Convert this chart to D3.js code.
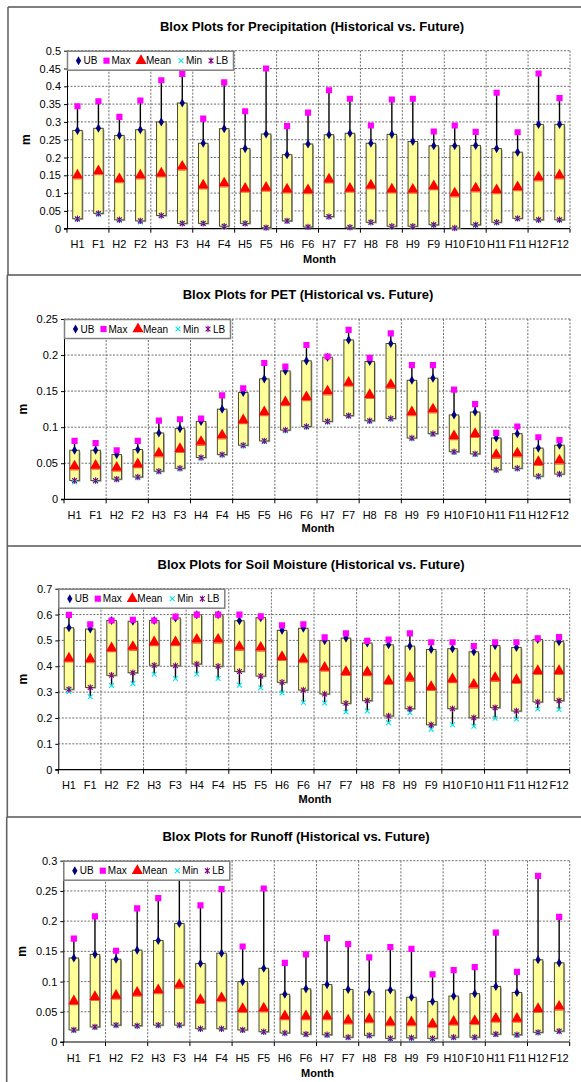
<!DOCTYPE html>
<html lang="en">
<head>
<meta charset="UTF-8">
<title>Blox Plots (Historical vs. Future)</title>
<script src="https://d3js.org/d3.v7.min.js"></script>
<style>
  body { margin: 0; background: #fff; }
  text { font-family: "Liberation Sans", Arial, sans-serif; fill: #000; }
</style>
</head>
<body>
<svg id="canvas" width="581" height="1082"></svg>
<script>
const months = ["H1","F1","H2","F2","H3","F3","H4","F4","H5","F5","H6","F6",
                "H7","F7","H8","F8","H9","F9","H10","F10","H11","F11","H12","F12"];

// precipitation
const precipUB   = [0.276,0.282,0.262,0.278,0.300,0.353,0.240,0.281,0.225,0.266,0.208,0.238,0.264,0.268,0.240,0.265,0.245,0.233,0.233,0.234,0.225,0.215,0.293,0.293];
const precipMax  = [0.344,0.358,0.314,0.360,0.417,0.435,0.309,0.411,0.330,0.450,0.288,0.326,0.389,0.365,0.290,0.363,0.365,0.273,0.290,0.272,0.382,0.271,0.436,0.367];
const precipMean = [0.150,0.162,0.140,0.150,0.156,0.175,0.122,0.128,0.113,0.116,0.111,0.109,0.139,0.113,0.122,0.111,0.110,0.120,0.100,0.114,0.109,0.117,0.145,0.150];
const precipLB   = [0.028,0.043,0.025,0.022,0.037,0.015,0.015,0.007,0.015,0.003,0.022,0.005,0.034,0.004,0.018,0.007,0.007,0.011,0.002,0.011,0.018,0.029,0.025,0.025];
const precipMin  = [0.026,0.040,0.024,0.019,0.036,0.014,0.014,0.006,0.014,0.002,0.021,0.004,0.033,0.003,0.017,0.006,0.006,0.010,0.001,0.010,0.017,0.028,0.024,0.024];
const precipTicks = [0,0.05,0.1,0.15,0.2,0.25,0.3,0.35,0.4,0.45,0.5];

// PET
const petUB   = [0.068,0.068,0.062,0.069,0.092,0.098,0.108,0.125,0.148,0.167,0.178,0.192,0.197,0.221,0.191,0.216,0.165,0.168,0.117,0.121,0.085,0.091,0.071,0.075];
const petMax  = [0.081,0.078,0.068,0.081,0.109,0.111,0.112,0.144,0.154,0.189,0.184,0.214,0.198,0.235,0.196,0.230,0.186,0.186,0.152,0.132,0.092,0.101,0.086,0.082];
const petMean = [0.046,0.047,0.044,0.049,0.064,0.070,0.080,0.089,0.110,0.121,0.135,0.142,0.150,0.162,0.145,0.159,0.121,0.125,0.088,0.091,0.062,0.064,0.052,0.054];
const petLB   = [0.026,0.026,0.028,0.031,0.039,0.043,0.058,0.062,0.075,0.081,0.096,0.101,0.108,0.116,0.109,0.112,0.085,0.091,0.066,0.063,0.041,0.043,0.032,0.035];
const petMin  = [0.024,0.025,0.027,0.030,0.038,0.042,0.057,0.061,0.074,0.080,0.095,0.100,0.107,0.115,0.108,0.111,0.084,0.090,0.065,0.062,0.040,0.042,0.031,0.034];
const petTicks = [0,0.05,0.1,0.15,0.2,0.25];

// soil moisture
const soilUB   = [0.549,0.544,0.577,0.574,0.577,0.587,0.599,0.599,0.576,0.588,0.539,0.547,0.499,0.509,0.490,0.483,0.478,0.465,0.468,0.456,0.480,0.473,0.504,0.495];
const soilMax  = [0.599,0.562,0.577,0.580,0.577,0.592,0.600,0.600,0.600,0.593,0.558,0.562,0.512,0.527,0.498,0.503,0.527,0.493,0.493,0.478,0.493,0.493,0.508,0.513];
const soilMean = [0.431,0.428,0.471,0.476,0.494,0.494,0.504,0.504,0.476,0.473,0.437,0.428,0.395,0.379,0.378,0.344,0.356,0.321,0.351,0.330,0.356,0.348,0.383,0.383];
const soilLB   = [0.311,0.318,0.365,0.375,0.404,0.402,0.409,0.400,0.380,0.362,0.338,0.308,0.293,0.257,0.267,0.208,0.236,0.174,0.236,0.201,0.240,0.227,0.262,0.267];
const soilMin  = [0.302,0.282,0.326,0.333,0.369,0.353,0.370,0.353,0.327,0.317,0.297,0.260,0.258,0.223,0.227,0.182,0.220,0.156,0.174,0.168,0.199,0.196,0.235,0.233];
const soilTicks = [0,0.1,0.2,0.3,0.4,0.5,0.6,0.7];

// runoff
const runoffUB   = [0.139,0.145,0.137,0.152,0.168,0.196,0.130,0.147,0.100,0.122,0.079,0.088,0.095,0.087,0.083,0.086,0.074,0.067,0.076,0.080,0.092,0.082,0.136,0.131];
const runoffMax  = [0.171,0.208,0.151,0.221,0.238,0.310,0.226,0.253,0.158,0.254,0.131,0.145,0.172,0.162,0.140,0.157,0.154,0.112,0.119,0.124,0.181,0.116,0.275,0.207];
const runoffMean = [0.068,0.075,0.077,0.082,0.086,0.095,0.070,0.073,0.055,0.056,0.043,0.043,0.043,0.036,0.038,0.033,0.033,0.030,0.034,0.035,0.039,0.039,0.055,0.059];
const runoffLB   = [0.020,0.025,0.028,0.027,0.028,0.028,0.022,0.022,0.020,0.017,0.015,0.013,0.012,0.008,0.011,0.006,0.007,0.006,0.008,0.008,0.013,0.012,0.016,0.018];
const runoffMin  = [0.019,0.024,0.027,0.026,0.027,0.027,0.021,0.021,0.019,0.016,0.014,0.012,0.011,0.007,0.010,0.005,0.006,0.005,0.007,0.007,0.012,0.011,0.015,0.017];
const runoffTicks = [0,0.05,0.1,0.15,0.2,0.25,0.3];

const legendNames = ["UB","Max","Mean","Min","LB"];

const panels = [
  {title: "Blox Plots for Precipitation (Historical vs. Future)",
   ub: precipUB, max: precipMax, mean: precipMean, min: precipMin, lb: precipLB, ticks: precipTicks,
   frame: [8, 7, 275], plot: [67, 570, 50.7, 228.7], titleX: 312, titleY: 31, mX: 30, monthY: 263},
  {title: "Blox Plots for PET (Historical vs. Future)",
   ub: petUB, max: petMax, mean: petMean, min: petMin, lb: petLB, ticks: petTicks,
   frame: [7.3, 275, 546], plot: [64, 570, 319, 499.3], titleX: 308, titleY: 299, mX: 27, monthY: 532},
  {title: "Blox Plots for Soil Moisture (Historical vs. Future)",
   ub: soilUB, max: soilMax, mean: soilMean, min: soilMin, lb: soilLB, ticks: soilTicks,
   frame: [7.3, 546, 817], plot: [58.3, 569.7, 588.7, 769.7], titleX: 311, titleY: 569, mX: 27, monthY: 803},
  {title: "Blox Plots for Runoff (Historical vs. Future)",
   ub: runoffUB, max: runoffMax, mean: runoffMean, min: runoffMin, lb: runoffLB, ticks: runoffTicks,
   frame: [6.7, 817, 1082], plot: [63.3, 569.7, 860.7, 1042], titleX: 296, titleY: 841, mX: 26, monthY: 1077}
];

const svg = d3.select("#canvas");

// marker drawing, shared by plot and legend
const markers = {
  UB:   sel => sel.append("path").attr("d", d3.symbol(d3.symbolDiamond, 24)).attr("fill", "#000080"),
  Max:  sel => sel.append("path").attr("d", d3.symbol(d3.symbolSquare, 38)).attr("fill", "#ff00ff"),
  Mean: sel => sel.append("path").attr("d", d3.symbol(d3.symbolTriangle, 54)).attr("fill", "#ff0000"),
  Min:  sel => sel.append("path").attr("d", "M-2.4,-2.4L2.4,2.4M-2.4,2.4L2.4,-2.4")
                 .attr("stroke", "#00e5ee").attr("stroke-width", 1.1).attr("fill", "none"),
  LB:   sel => sel.append("path").attr("d", "M-2.4,-2.4L2.4,2.4M-2.4,2.4L2.4,-2.4M0,-3.2L0,3.2")
                 .attr("stroke", "#800080").attr("stroke-width", 1.1).attr("fill", "none")
};

panels.forEach(drawPanel);

function drawPanel(p, pi) {
  const g = svg.append("g");
  const [fx, fy0, fy1] = p.frame;
  const [left, right, top, bottom] = p.plot;

  // frame of the chart object
  g.append("line").attr("x1", fx).attr("x2", 581).attr("y1", fy0).attr("y2", fy0)
    .attr("stroke", "#555").attr("stroke-width", 1.6);
  g.append("line").attr("x1", fx).attr("x2", fx).attr("y1", fy0).attr("y2", fy1)
    .attr("stroke", "#666").attr("stroke-width", 1.6);

  const x = d3.scaleBand().domain(months).range([left, right]);
  const y = d3.scaleLinear().domain([0, d3.max(p.ticks)]).range([bottom, top]);
  const bounds = d3.range(0, months.length + 1, 2).map(k => k < months.length ? x(months[k]) : right);

  // gridlines
  g.selectAll(".hg").data(p.ticks.filter(t => t > 0)).join("line")
    .attr("x1", left).attr("x2", right).attr("y1", d => y(d)).attr("y2", d => y(d))
    .attr("stroke", "#6e6e6e").attr("stroke-width", 1).attr("stroke-dasharray", "2,1.5");
  g.selectAll(".vg").data(bounds.slice(1)).join("line")
    .attr("x1", d => d).attr("x2", d => d).attr("y1", top).attr("y2", bottom)
    .attr("stroke", "#6e6e6e").attr("stroke-width", 1).attr("stroke-dasharray", "2,1.5");

  // y axis
  const ya = g.append("g").attr("transform", "translate(" + left + ",0)")
    .call(d3.axisLeft(y).tickValues(p.ticks).tickSize(3).tickSizeOuter(0).tickPadding(3).tickFormat(d3.format("~g")));
  ya.select(".domain").attr("stroke", "#000");
  ya.selectAll("text").style("font-size", "11px").attr("font-family", null);

  // x axis labels, ticks at month boundaries
  const xa = g.append("g").attr("transform", "translate(0," + bottom + ")")
    .call(d3.axisBottom(x).tickSize(0).tickPadding(12));
  xa.select(".domain").remove();
  xa.selectAll("text").style("font-size", "11px").attr("font-family", null);
  g.append("line").attr("x1", left - 3).attr("x2", right).attr("y1", bottom).attr("y2", bottom)
    .attr("stroke", "#000").attr("stroke-width", 1.2);
  g.selectAll(".xt").data(bounds).join("line")
    .attr("x1", d => d).attr("x2", d => d).attr("y1", bottom).attr("y2", bottom + 4)
    .attr("stroke", "#000");

  const rows = months.map((m, k) => ({m: m, ub: p.ub[k], max: p.max[k], mean: p.mean[k], min: p.min[k], lb: p.lb[k]}));
  const cx = d => x(d.m) + x.bandwidth() / 2;
  const bw = 9.5;

  const clipId = "clip" + pi;
  svg.append("clipPath").attr("id", clipId).append("rect")
    .attr("x", left).attr("y", top).attr("width", right - left).attr("height", bottom - top + 6);
  const plot = g.append("g").attr("clip-path", "url(#" + clipId + ")");

  // whiskers
  plot.selectAll(".wu").data(rows).join("line")
    .attr("x1", cx).attr("x2", cx).attr("y1", d => y(d.ub)).attr("y2", d => y(d.max))
    .attr("stroke", "#000").attr("stroke-width", 1.4);
  plot.selectAll(".wl").data(rows).join("line")
    .attr("x1", cx).attr("x2", cx).attr("y1", d => y(d.lb)).attr("y2", d => y(d.min))
    .attr("stroke", "#000").attr("stroke-width", 1.4);

  // boxes (shadow then box)
  plot.selectAll(".bs").data(rows).join("rect")
    .attr("x", d => cx(d) - bw / 2 + 1.2).attr("y", d => y(d.ub) + 1.2)
    .attr("width", bw).attr("height", d => y(d.lb) - y(d.ub))
    .attr("fill", "#a8a8a8");
  plot.selectAll(".bx").data(rows).join("rect")
    .attr("x", d => cx(d) - bw / 2).attr("y", d => y(d.ub))
    .attr("width", bw).attr("height", d => y(d.lb) - y(d.ub))
    .attr("fill", "#ffff99").attr("stroke", "#4a4a30").attr("stroke-width", 1);

  // mean line at triangle base
  plot.selectAll(".ml").data(rows).join("line")
    .attr("x1", d => cx(d) - bw / 2 + 0.5).attr("x2", d => cx(d) + bw / 2 - 0.5)
    .attr("y1", d => y(d.mean) + 3.7).attr("y2", d => y(d.mean) + 3.7)
    .attr("stroke", "#f26a2a").attr("stroke-width", 1.2);

  // markers
  const keyOf = {UB: "ub", Max: "max", Mean: "mean", Min: "min", LB: "lb"};
  ["Min", "LB", "Mean", "UB", "Max"].forEach(name => {
    plot.selectAll(".mk" + name).data(rows).join("g")
      .attr("transform", d => "translate(" + cx(d) + "," + y(d[keyOf[name]]) + ")")
      .each(function () { markers[name](d3.select(this)); });
  });

  // legend
  const lg = g.append("g").attr("transform", "translate(" + left + "," + top + ")");
  lg.append("rect").attr("x", 0.5).attr("y", 0.5).attr("width", 166).attr("height", 19)
    .attr("fill", "#fff").attr("stroke", "#808080").attr("stroke-width", 1.5);
  const offs = [11.5, 39.5, 74, 114, 144];
  legendNames.forEach((name, k) => {
    const item = lg.append("g").attr("transform", "translate(" + offs[k] + ",10)");
    markers[name](item);
    item.append("text").attr("x", 5).attr("y", 3.7).style("font-size", "10px").text(name);
  });

  // titles
  g.append("text").attr("x", p.titleX).attr("y", p.titleY).attr("text-anchor", "middle")
    .style("font-size", "13px").style("font-weight", "bold").text(p.title);
  g.append("text").attr("transform", "translate(" + p.mX + "," + (top + bottom) / 2 + ") rotate(-90)")
    .attr("text-anchor", "middle").style("font-size", "12px").style("font-weight", "bold").text("m");
  g.append("text").attr("x", (left + right) / 2 + 1).attr("y", p.monthY).attr("text-anchor", "middle")
    .style("font-size", "11px").style("font-weight", "bold").text("Month");
}
</script>
</body>
</html>
